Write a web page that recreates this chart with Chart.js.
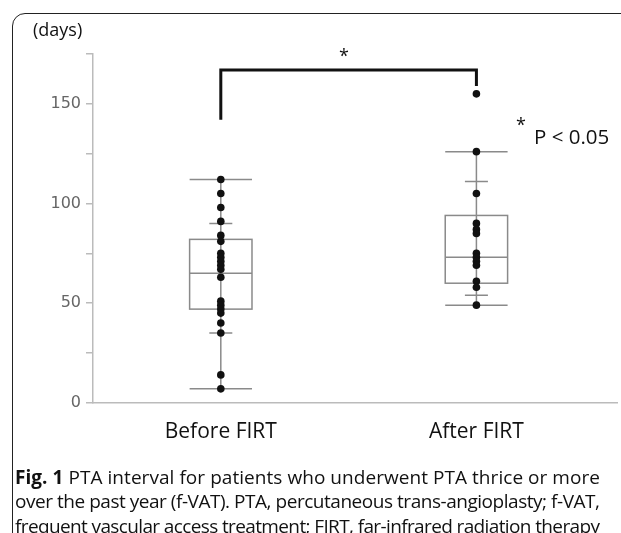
<html>
<head>
    <meta charset="utf-8" />
    <title>PTA interval</title>
    <script src="https://cdn.jsdelivr.net/npm/chart.js"></script>
    <style>
        body { margin: 0; width: 621px; height: 533px; overflow: hidden; background: #fff; position: relative; font-family: "Open Sans", sans-serif; }
        .frame { position: absolute; left: 12px; top: 13px; width: 640px; height: 560px; border: 1.7px solid #222; border-radius: 13px; }
        .txt { position: absolute; line-height: 1; color: #111; white-space: nowrap; }
        #caption { position: absolute; left: 15px; top: 465px; font-size: 19px; line-height: 24.3px; color: #111; white-space: nowrap; }
        #caption div { display: inline-block; }
    </style>
</head>
<body>
<div class="frame"></div>
<div style="position:absolute; left:0; top:0; width:621px; height:480px;">
    <canvas id="box"></canvas>
</div>
<div class="txt" style="left:33px; top:20px; font-size:18px;">(days)</div>
<div class="txt" style="left:339px; top:46px; font-size:18px;">*</div>
<div class="txt" style="left:516px; top:115px; font-size:18px;">*</div>
<div class="txt" style="left:534px; top:126px; font-size:20.5px;">P &lt; 0.05</div>
<div id="caption"><div><b>Fig. 1</b> PTA interval for patients who underwent PTA thrice or more</div><br><div>over the past year (f-VAT). PTA, percutaneous trans-angioplasty; f-VAT,</div><br><div>frequent vascular access treatment; FIRT, far-infrared radiation therapy</div></div>

<script>
    const groups = ['Before FIRT', 'After FIRT'];
    const beforeDays = [112, 105, 98, 91, 84, 81, 75, 73, 71, 69, 67, 63, 51, 49, 47, 45, 40, 35, 14, 7];
    const afterDays = [155, 126, 105, 90, 87, 85, 75, 73, 71, 69, 61, 58, 49];

    // box stats
    const boxMin = [7, 49];
    const boxQ1 = [47, 60];
    const boxMedian = [65, 73];
    const boxQ3 = [82, 94];
    const boxMax = [112, 126];
    const sdLow = [35, 54];
    const sdHigh = [90, 111];

    // significance bracket (days)
    const bracketTop = 167;
    const bracketLeftEnd = 142;
    const bracketRightEnd = 159;

    // squeeze caption lines to the figure width
    document.querySelectorAll('#caption div').forEach(d => {
        const n = d.textContent.length;
        const w = d.getBoundingClientRect().width;
        d.style.letterSpacing = ((585 - w) / (n - 1)) + 'px';
    });

    const boxPlugin = {
        id: 'boxes',
        beforeDatasetsDraw(chart) {
            const c = chart.ctx, x = chart.scales.x, y = chart.scales.y;
            c.save();
            c.strokeStyle = '#8a8a8a';
            c.lineWidth = 1.5;
            groups.forEach((g, i) => {
                const xc = x.getPixelForValue(i);
                const hw = x.getPixelForValue(i + 0.122) - xc;
                const sw = x.getPixelForValue(i + 0.045) - xc;
                c.beginPath();
                c.moveTo(xc, y.getPixelForValue(boxMin[i]));
                c.lineTo(xc, y.getPixelForValue(boxMax[i]));
                [boxMin[i], boxMax[i], boxMedian[i]].forEach(v => {
                    c.moveTo(xc - hw, y.getPixelForValue(v));
                    c.lineTo(xc + hw, y.getPixelForValue(v));
                });
                [sdLow[i], sdHigh[i]].forEach(v => {
                    c.moveTo(xc - sw, y.getPixelForValue(v));
                    c.lineTo(xc + sw, y.getPixelForValue(v));
                });
                c.stroke();
                const top = y.getPixelForValue(boxQ3[i]);
                const bot = y.getPixelForValue(boxQ1[i]);
                c.strokeRect(xc - hw, top, hw * 2, bot - top);
            });
            c.restore();
        },
        afterDraw(chart) {
            const c = chart.ctx, x = chart.scales.x, y = chart.scales.y;
            c.save();
            c.strokeStyle = '#111';
            c.lineWidth = 3;
            c.beginPath();
            c.moveTo(x.getPixelForValue(0), y.getPixelForValue(bracketLeftEnd));
            c.lineTo(x.getPixelForValue(0), y.getPixelForValue(bracketTop));
            c.lineTo(x.getPixelForValue(1), y.getPixelForValue(bracketTop));
            c.lineTo(x.getPixelForValue(1), y.getPixelForValue(bracketRightEnd));
            c.stroke();
            c.restore();
        }
    };

    const ctx = document.getElementById('box');
    ctx.width = 621;
    ctx.height = 473;

    new Chart(ctx, {
        type: 'scatter',
        data: {
            datasets: [{
                label: groups[0],
                data: beforeDays.map(v => ({x: 0, y: v})),
            }, {
                label: groups[1],
                data: afterDays.map(v => ({x: 1, y: v})),
            }]
        },
        options: {
            responsive: false,
            animation: false,
            devicePixelRatio: 1,
            layout: { padding: { top: 54, left: 0, right: 0, bottom: 19 } },
            elements: {
                point: { radius: 3.8, backgroundColor: '#111', borderColor: '#111', borderWidth: 0 }
            },
            plugins: {
                legend: { display: false },
                tooltip: { enabled: false }
            },
            scales: {
                x: {
                    type: 'linear',
                    min: -0.5,
                    max: 1.55,
                    afterBuildTicks: s => { s.ticks = [{value: 0}, {value: 1}]; },
                    grid: { display: false },
                    border: { color: '#bbb', width: 1.5 },
                    ticks: {
                        callback: (v, i) => groups[i],
                        color: '#111',
                        font: { family: 'Open Sans', size: 21 },
                        padding: 9,
                        maxRotation: 0,
                    }
                },
                y: {
                    min: 0,
                    max: 175,
                    afterFit: s => { s.width = 93; },
                    grid: { drawOnChartArea: false, tickLength: 7, color: '#bbb', lineWidth: 1.5 },
                    border: { color: '#bbb', width: 1.5 },
                    ticks: {
                        stepSize: 25,
                        callback: v => v % 50 === 0 ? v : '',
                        color: '#666',
                        font: { family: 'DejaVu Sans', size: 16 },
                        padding: 5,
                    }
                }
            }
        },
        plugins: [boxPlugin]
    });
</script>
</body>
</html>
